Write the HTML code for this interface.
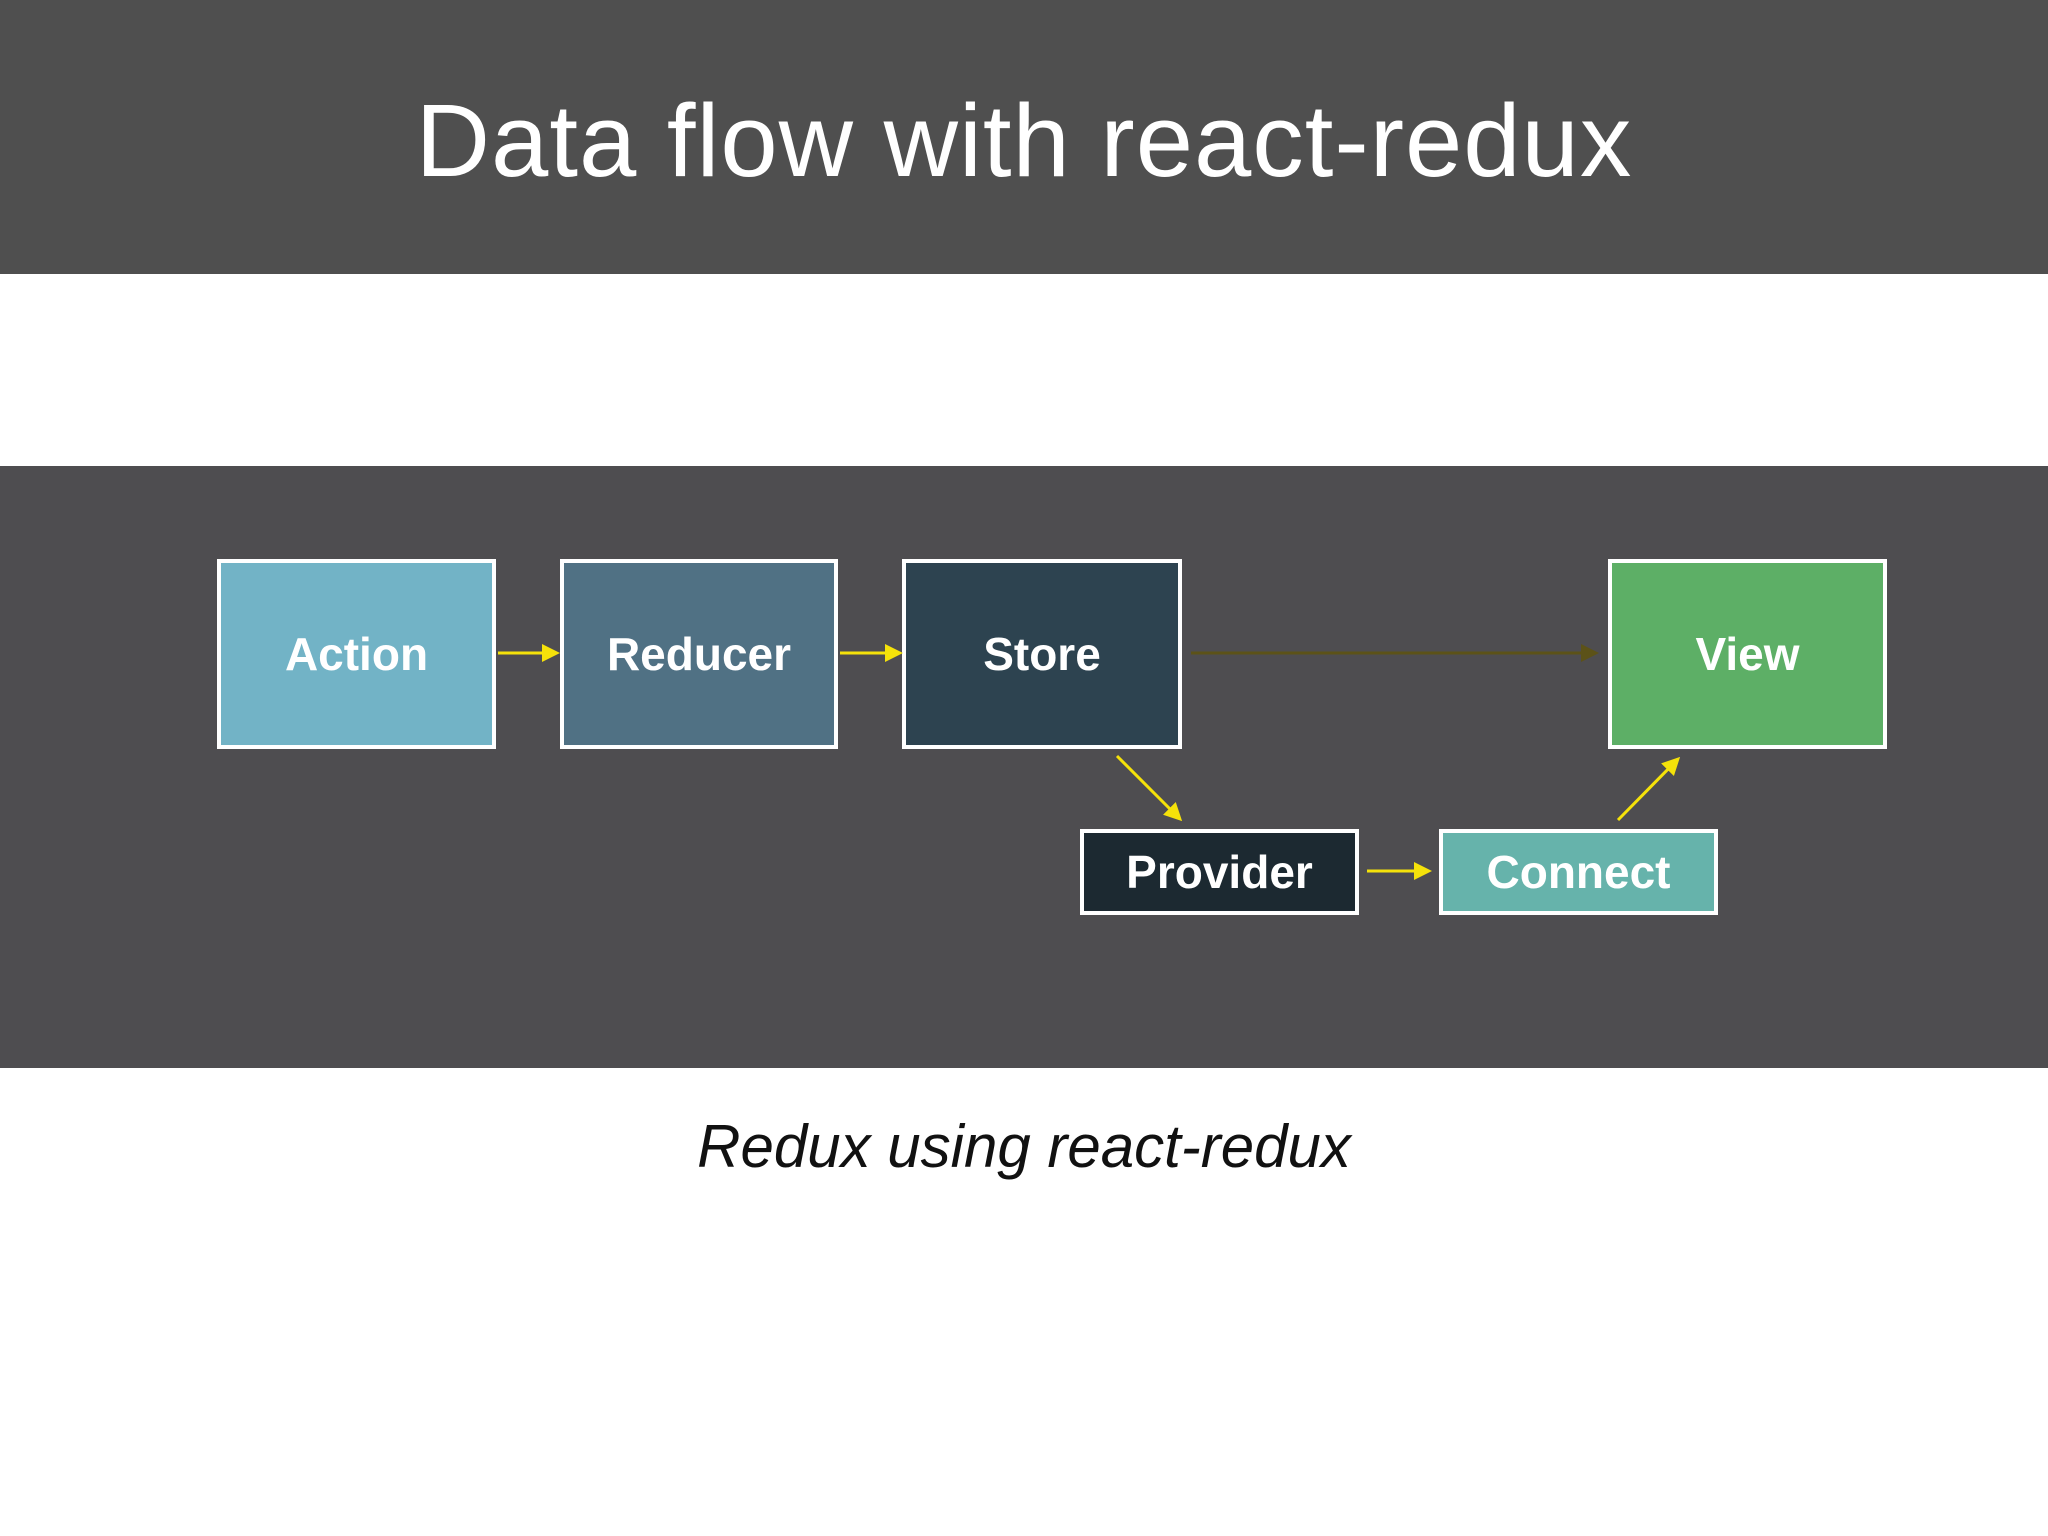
<!DOCTYPE html>
<html><head><meta charset="utf-8"><style>
body{margin:0;width:2048px;height:1536px;background:#fff;position:relative;overflow:hidden;font-family:"Liberation Sans",sans-serif}
.top{position:absolute;left:0;top:0;width:2048px;height:274px;background:#4f4f4f}
.title{position:absolute;left:0;width:2048px;top:82px;text-align:center;color:#fff;font-size:103px;font-weight:300;letter-spacing:1px}
.band{position:absolute;left:0;top:466px;width:2048px;height:602px;background:#4e4d50}
.box{position:absolute;box-sizing:border-box;border:4px solid #fff;color:#fff;font-weight:bold;font-size:46px;display:flex;align-items:center;justify-content:center}
.cap{position:absolute;left:0;width:2048px;top:1112px;text-align:center;font-size:60px;font-style:italic;color:#111}
</style></head><body>
<div class="top"></div><div class="title">Data flow with react-redux</div>
<div class="band"></div>
<div class="box" style="left:217px;top:559px;width:279px;height:190px;background:#72b3c6">Action</div>
<div class="box" style="left:560px;top:559px;width:278px;height:190px;background:#507184">Reducer</div>
<div class="box" style="left:902px;top:559px;width:280px;height:190px;background:#2d4350">Store</div>
<div class="box" style="left:1608px;top:559px;width:279px;height:190px;background:#5daf66">View</div>
<div class="box" style="left:1080px;top:829px;width:279px;height:86px;background:#1c2931">Provider</div>
<div class="box" style="left:1439px;top:829px;width:279px;height:86px;background:#66b3ab">Connect</div>
<svg width="2048" height="1536" style="position:absolute;left:0;top:0">
<defs>
<marker id="y" markerWidth="6" markerHeight="6" refX="5" refY="3" orient="auto" markerUnits="strokeWidth"><path d="M0,0L6,3L0,6z" fill="#f5e20a"/></marker>
<marker id="o" markerWidth="6" markerHeight="6" refX="5" refY="3" orient="auto" markerUnits="strokeWidth"><path d="M0,0L6,3L0,6z" fill="#5c5218"/></marker>
</defs>
<g stroke="#f5e20a" stroke-width="3" fill="none">
<line x1="498" y1="653" x2="557" y2="653" marker-end="url(#y)"/>
<line x1="840" y1="653" x2="900" y2="653" marker-end="url(#y)"/>
<line x1="1117" y1="756" x2="1180" y2="819" marker-end="url(#y)"/>
<line x1="1367" y1="871" x2="1429" y2="871" marker-end="url(#y)"/>
<line x1="1618" y1="820" x2="1678" y2="759" marker-end="url(#y)"/>
</g>
<line x1="1191" y1="653" x2="1596" y2="653" stroke="#5c5218" stroke-width="3" marker-end="url(#o)"/>
</svg>
<div class="cap">Redux using react-redux</div>
</body></html>
